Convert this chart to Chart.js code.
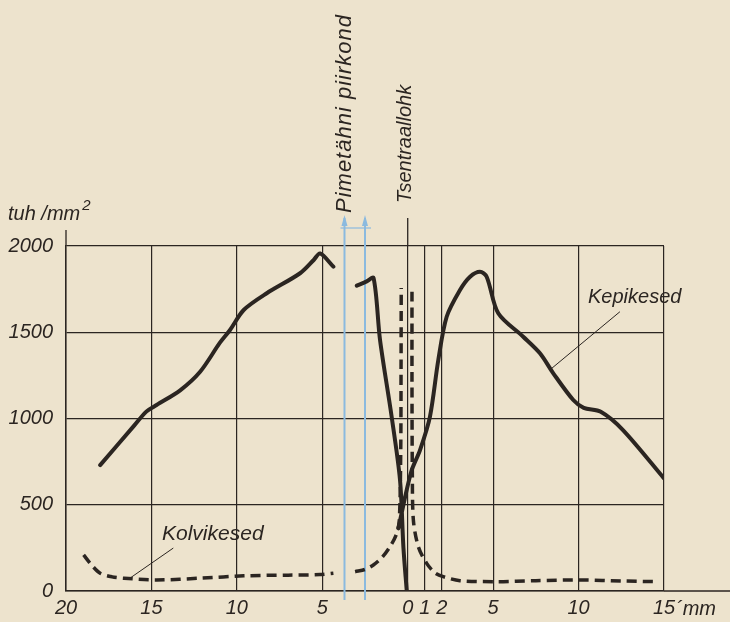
<!DOCTYPE html>
<html>
<head>
<meta charset="utf-8">
<script src="https://cdn.jsdelivr.net/npm/chart.js@4/dist/chart.umd.min.js"></script>
<style>
  html, body { margin: 0; padding: 0; background: #ede3cd; }
  #wrap { width: 730px; height: 622px; }
</style>
</head>
<body>
<div id="wrap"><canvas id="chart" width="730" height="622"></canvas></div>
<script>
// Kaugus tsentraallohust (mm), vasak pool negatiivne
const xTickValues = [-20, -15, -10, -5, 0, 1, 2, 5, 10, 15];
const yTickValues = [0, 500, 1000, 1500, 2000];

// Kepikesed (pidev joon) — null = katkestus
const rodX = [-18.0, -16.0, -15.3, -14.7, -13.3, -12.15, -11.0, -10.4, -9.6, -8.25, -6.3, -5.5, -5.13, -4.35, null,
  -2.98, -2.4, -2.0, -1.62, -0.94, -0.45, -0.25, -0.06, null,
  -0.55, 0.2, 0.72, 1.3, 1.79, 2.28, 3.06, 3.65, 4.23, 4.62, 5.3, 6.76, 7.74, 8.52, 9.69, 10.3, 11.3, 12.6, 15.0];
const rodY = [730, 960, 1040, 1078, 1165, 1271, 1438, 1513, 1629, 1726, 1842, 1919, 1957, 1880, null,
  1770, 1795, 1815, 1455, 1010, 643, 250, 6, null,
  363, 690, 817, 1010, 1339, 1590, 1745, 1822, 1851, 1822, 1610, 1474, 1378, 1262, 1107, 1062, 1039, 933, 653];

// Kolvikesed (katkendjoon)
const coneX = [-18.97, -18.5, -18.0, -17.3, -16.6, -14.7, -12.0, -9.6, -7.0, -5.13, -4.35, null,
  -3.08, -2.5, -2.01, -1.5, -1.04, -0.7, -0.5, -0.41, -0.39, -0.38, null,
  0.25, 0.25, 0.27, 0.33, 0.62, 1.11, 1.6, 2.08, 3.06, 5.2, 7.5, 10.27, 12.5, 14.57];
const coneY = [209, 150, 103, 82, 74, 64, 75, 88, 92, 95, 103, null,
  112, 125, 151, 195, 257, 320, 400, 800, 1300, 1757, null,
  1735, 1200, 700, 412, 257, 160, 105, 83, 60, 54, 60, 64, 58, 54];

// Pimetähni piirkonna piirid
const blindSpotX = [-3.7, -2.5];

const INK = "#2b2521";
const FONT = '"Liberation Sans", Arial, sans-serif';

function toPoints(xs, ys) {
  return xs.map((x, i) => ({ x: x === null ? NaN : x, y: ys[i] }));
}

const decorPlugin = {
  id: "decor",
  beforeDatasetsDraw(chart) {
    const { ctx, scales: { x, y } } = chart;
    ctx.save();
    // sinised pimetähni jooned
    ctx.strokeStyle = "#8bbadf";
    ctx.fillStyle = "#8bbadf";
    ctx.lineWidth = 2;
    const px = blindSpotX.map(v => x.getPixelForValue(v));
    px.forEach(p => {
      ctx.beginPath();
      ctx.moveTo(p, y.bottom + 9);
      ctx.lineTo(p, 218);
      ctx.stroke();
      ctx.beginPath();
      ctx.moveTo(p, 215);
      ctx.lineTo(p - 3, 226);
      ctx.lineTo(p + 3, 226);
      ctx.closePath();
      ctx.fill();
    });
    ctx.lineWidth = 1.2;
    ctx.beginPath();
    ctx.moveTo(px[0] - 4, 228);
    ctx.lineTo(px[1] + 6, 228);
    ctx.stroke();
    ctx.restore();
  },
  afterDraw(chart) {
    const { ctx, scales: { x, y } } = chart;
    ctx.save();
    ctx.strokeStyle = INK;
    ctx.lineWidth = 1.3;
    // telgede pikendused
    ctx.beginPath();
    ctx.moveTo(x.left, y.top);
    ctx.lineTo(x.left, y.top - 16);
    ctx.moveTo(x.getPixelForValue(0), y.top);
    ctx.lineTo(x.getPixelForValue(0), y.top - 28);
    ctx.moveTo(x.right, y.bottom);
    ctx.lineTo(chart.width, y.bottom);
    ctx.stroke();

    // viidejooned
    ctx.lineWidth = 1;
    ctx.beginPath();
    ctx.moveTo(x.getPixelForValue(12.42), y.getPixelForValue(1619));
    ctx.lineTo(x.getPixelForValue(8.42), y.getPixelForValue(1290));
    ctx.moveTo(x.getPixelForValue(-13.72), y.getPixelForValue(249));
    ctx.lineTo(x.getPixelForValue(-16.25), y.getPixelForValue(75));
    ctx.stroke();

    ctx.fillStyle = INK;
    ctx.textBaseline = "middle";
    ctx.textAlign = "left";
    ctx.font = "italic 20px " + FONT;
    ctx.fillText("Kepikesed", 588, 297);
    ctx.font = "italic 21px " + FONT;
    ctx.fillText("Kolvikesed", 162, 534);

    // y ühik
    ctx.font = "italic 20px " + FONT;
    ctx.fillText("tuh /mm", 8, 214);
    const w = ctx.measureText("tuh /mm").width;
    ctx.font = "italic 15px " + FONT;
    ctx.fillText("2", 8 + w + 2, 206);

    // x ühik
    ctx.font = "italic 20px " + FONT;
    ctx.fillText("\u00b4mm", 676, 609);

    // pööratud sildid
    ctx.font = "italic 22px " + FONT;
    ctx.letterSpacing = "1px";
    ctx.save();
    ctx.translate(345, 213);
    ctx.rotate(-Math.PI / 2);
    ctx.fillText("Pimetähni piirkond", 0, 0);
    ctx.restore();
    ctx.letterSpacing = "0px";
    ctx.font = "italic 20px " + FONT;
    ctx.save();
    ctx.translate(x.getPixelForValue(0) - 2, 203);
    ctx.rotate(-Math.PI / 2);
    ctx.fillText("Tsentraallohk", 0, 0);
    ctx.restore();
    ctx.restore();
  }
};

new Chart(document.getElementById("chart"), {
  type: "line",
  data: {
    datasets: [
      {
        label: "Kepikesed",
        data: toPoints(rodX, rodY),
        borderColor: INK,
        borderWidth: 4,
        tension: 0.3,
        pointRadius: 0,
        spanGaps: false,
        borderCapStyle: "round",
        borderJoinStyle: "round"
      },
      {
        label: "Kolvikesed",
        data: toPoints(coneX, coneY),
        borderColor: INK,
        borderWidth: 3.5,
        borderDash: [10, 6],
        tension: 0.3,
        pointRadius: 0,
        spanGaps: false
      }
    ]
  },
  options: {
    responsive: false,
    animation: false,
    layout: { padding: { top: 246, right: 66, left: 0, bottom: 0 } },
    plugins: { legend: { display: false }, tooltip: { enabled: false } },
    scales: {
      x: {
        type: "linear",
        min: -20,
        max: 15,
        afterFit: s => { s.height = 31; },
        afterBuildTicks: s => { s.ticks = xTickValues.map(v => ({ value: v })); },
        grid: { color: INK, lineWidth: 1.2, drawTicks: false },
        border: { color: INK, width: 1.5 },
        ticks: {
          autoSkip: false,
          maxRotation: 0,
          padding: 5,
          color: INK,
          font: { family: FONT, size: 20, style: "italic" },
          callback: v => String(Math.abs(v))
        }
      },
      y: {
        min: 0,
        max: 2000,
        afterFit: s => { s.width = 66; },
        afterBuildTicks: s => { s.ticks = yTickValues.map(v => ({ value: v })); },
        grid: { color: INK, lineWidth: 1.2, drawTicks: false },
        border: { color: INK, width: 1.5 },
        ticks: {
          padding: 13,
          color: INK,
          font: { family: FONT, size: 20, style: "italic" },
          callback: v => String(v)
        }
      }
    }
  },
  plugins: [decorPlugin]
});
</script>
</body>
</html>
